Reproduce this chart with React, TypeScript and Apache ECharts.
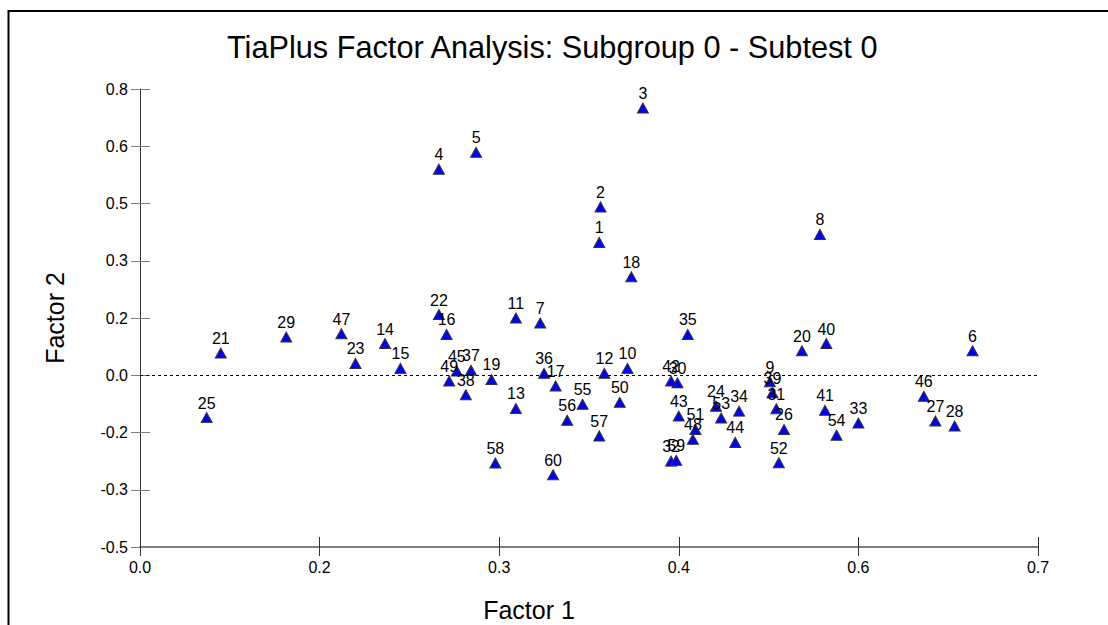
import React, { useEffect, useRef } from "react";
import * as echarts from "echarts";

const titleText = "TiaPlus Factor Analysis: Subgroup 0 - Subtest 0";
const xAxisName = "Factor 1";
const yAxisName = "Factor 2";

const itemIds = [
  "1", "2", "3", "4", "5", "6", "7", "8", "9", "10",
  "11", "12", "13", "14", "15", "16", "17", "18", "19", "20",
  "21", "22", "23", "24", "25", "26", "27", "28", "29", "30",
  "31", "32", "33", "34", "35", "36", "37", "38", "39", "40",
  "41", "42", "43", "44", "45", "46", "47", "48", "49", "50",
  "51", "52", "53", "54", "55", "56", "57", "58", "59", "60",
];

const factor1 = [
  0.358, 0.359, 0.392, 0.233, 0.262, 0.649, 0.312, 0.530, 0.491, 0.380,
  0.293, 0.362, 0.293, 0.191, 0.203, 0.239, 0.324, 0.383, 0.274, 0.516,
  0.063, 0.233, 0.168, 0.449, 0.052, 0.502, 0.620, 0.635, 0.114, 0.419,
  0.496, 0.414, 0.560, 0.467, 0.427, 0.315, 0.258, 0.254, 0.493, 0.535,
  0.534, 0.414, 0.420, 0.464, 0.247, 0.611, 0.157, 0.431, 0.241, 0.374,
  0.433, 0.498, 0.453, 0.543, 0.345, 0.333, 0.358, 0.277, 0.418, 0.322,
];

const factor2 = [
  0.348, 0.441, 0.700, 0.540, 0.584, 0.064, 0.137, 0.369, -0.017, 0.018,
  0.150, 0.005, -0.087, 0.083, 0.018, 0.107, -0.028, 0.258, -0.011, 0.064,
  0.058, 0.159, 0.031, -0.081, -0.111, -0.142, -0.120, -0.133, 0.100, -0.020,
  -0.088, -0.225, -0.125, -0.094, 0.107, 0.005, 0.013, -0.051, -0.046, 0.083,
  -0.092, -0.015, -0.107, -0.176, 0.011, -0.055, 0.109, -0.168, -0.015, -0.071,
  -0.142, -0.229, -0.112, -0.157, -0.076, -0.118, -0.159, -0.230, -0.223, -0.261,
];

const xTickLabels = ["0.0", "0.2", "0.3", "0.4", "0.6", "0.7"];
const yTickLabels = ["-0.5", "-0.3", "-0.2", "0.0", "0.2", "0.3", "0.5", "0.6", "0.8"];

const X_MIN = 0;
const X_MAX = 0.7;
const X_STEP = 0.14;
const Y_MIN = -0.45;
const Y_MAX = 0.75;
const Y_STEP = 0.15;

const FONT = "Arial, 'Liberation Sans', sans-serif";

export default function App() {
  const ref = useRef<HTMLDivElement>(null);

  useEffect(() => {
    if (!ref.current) return;
    const chart = echarts.init(ref.current, undefined, { renderer: "svg" });

    const data = itemIds.map((id, i) => ({ name: id, value: [factor1[i], factor2[i]] }));

    const xFmt = (v: number) => xTickLabels[Math.round((v - X_MIN) / X_STEP)] ?? "";
    const yFmt = (v: number) => yTickLabels[Math.round((v - Y_MIN) / Y_STEP)] ?? "";

    const grid = { left: 140, top: 89, width: 898, height: 458 };

    chart.setOption({
      animation: false,
      backgroundColor: "#ffffff",
      title: {
        text: titleText,
        left: 222,
        top: 27,
        textStyle: { fontFamily: FONT, fontSize: 30.7, fontWeight: "normal", color: "#000" },
      },
      grid,
      xAxis: [
        {
          type: "value",
          position: "bottom",
          min: X_MIN,
          max: X_MAX,
          interval: X_STEP,
          axisLine: { show: true, onZero: false, lineStyle: { color: "#808080", width: 2 } },
          axisTick: { show: true, inside: false, length: 9, lineStyle: { color: "#333", width: 1 } },
          axisLabel: { formatter: xFmt, margin: 12, color: "#000", fontSize: 16, fontFamily: FONT },
          splitLine: { show: false },
        },
        {
          type: "value",
          position: "bottom",
          min: X_MIN,
          max: X_MAX,
          interval: X_STEP,
          axisLine: { show: false, onZero: false },
          axisTick: { show: true, inside: true, length: 10, lineStyle: { color: "#333", width: 1 } },
          axisLabel: { show: false },
          splitLine: { show: false },
        },
      ],
      yAxis: [
        {
          type: "value",
          position: "left",
          min: Y_MIN,
          max: Y_MAX,
          interval: Y_STEP,
          axisLine: { show: true, onZero: false, lineStyle: { color: "#333", width: 1 } },
          axisTick: { show: true, inside: false, length: 9, lineStyle: { color: "#808080", width: 1 } },
          axisLabel: { formatter: yFmt, margin: 12, color: "#000", fontSize: 16, fontFamily: FONT },
          splitLine: { show: false },
        },
        {
          type: "value",
          position: "left",
          min: Y_MIN,
          max: Y_MAX,
          interval: Y_STEP,
          axisLine: { show: false, onZero: false },
          axisTick: { show: true, inside: true, length: 10, lineStyle: { color: "#808080", width: 1 } },
          axisLabel: { show: false },
          splitLine: { show: false },
        },
      ],
      graphic: [
        {
          type: "polyline",
          shape: { points: [[8.5, 625], [8.5, 11], [1108, 11]] },
          style: { stroke: "#000", lineWidth: 2, fill: null },
          silent: true,
        },
        {
          type: "text",
          x: 529,
          y: 610,
          style: {
            text: xAxisName,
            font: `25px ${FONT}`,
            fill: "#000",
            align: "center",
            verticalAlign: "middle",
          },
        },
        {
          type: "text",
          x: 55,
          y: 318,
          rotation: Math.PI / 2,
          style: {
            text: yAxisName,
            font: `25px ${FONT}`,
            fill: "#000",
            align: "center",
            verticalAlign: "middle",
          },
        },
      ],
      series: [
        {
          type: "scatter",
          xAxisIndex: 0,
          yAxisIndex: 0,
          data,
          symbol: "triangle",
          symbolSize: [11, 10],
          itemStyle: { color: "#0000ff", borderColor: "#333", borderWidth: 1, opacity: 1 },
          label: {
            show: true,
            position: "top",
            distance: 1,
            formatter: (p: any) => p.name,
            color: "#000",
            fontSize: 16,
            fontFamily: FONT,
          },
          emphasis: { disabled: true },
          markLine: {
            silent: true,
            symbol: ["none", "none"],
            label: { show: false },
            lineStyle: { type: [3, 3], color: "#000", width: 1 },
            data: [{ yAxis: 0 }],
          },
          z: 3,
        },
      ],
    });

    return () => chart.dispose();
  }, []);

  return (
    <div
      ref={ref}
      style={{ position: "fixed", left: 0, top: 0, width: 1108, height: 625, background: "#fff" }}
    />
  );
}
